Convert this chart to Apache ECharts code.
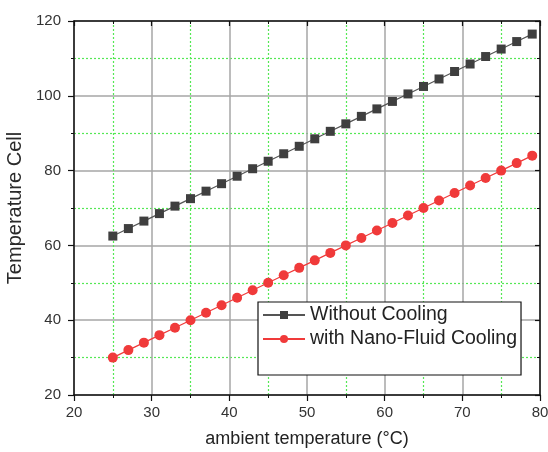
<!DOCTYPE html>
<html>
<head>
<meta charset="utf-8">
<script src="https://cdn.jsdelivr.net/npm/echarts@6/dist/echarts.min.js"></script>
<style>
  html, body { margin: 0; padding: 0; background: #fff; }
  #chart { width: 548px; height: 452px; }
</style>
</head>
<body>
<div id="chart"></div>
<script>
// x values (ambient temperature, °C)
var ambient = [25, 27, 29, 31, 33, 35, 37, 39, 41, 43, 45, 47, 49, 51,
  53, 55, 57, 59, 61, 63, 65, 67, 69, 71, 73, 75, 77, 79]
// cell temperature
var withoutCooling = [62.5, 64.5, 66.5, 68.5, 70.5, 72.5, 74.5, 76.5, 78.5, 80.5,
  82.5, 84.5, 86.5, 88.5, 90.5, 92.5, 94.5, 96.5, 98.5, 100.5,
  102.5, 104.5, 106.5, 108.5, 110.5, 112.5, 114.5, 116.5]
var nanoFluid = [30, 32, 34, 36, 38, 40, 42, 44, 46, 48,
  50, 52, 54, 56, 58, 60, 62, 64, 66, 68,
  70, 72, 74, 76, 78, 80, 82, 84]
var seriesNames = ['Without Cooling', 'with Nano-Fluid Cooling']

function pairs (ys) {
  return ambient.map(function (x, i) { return [x, ys[i]] })
}

var font = 'Liberation Sans, Arial, sans-serif'
var gridGrey = '#a6a6a6'
var minorGreen = '#55e855'

function mainAxis (extra) {
  var a = {
    type: 'value',
    axisLine: { show: true, onZero: false, lineStyle: { color: '#111', width: 1.5 } },
    axisTick: { show: true, length: 6, lineStyle: { color: '#111', width: 1.2 } },
    minorTick: { show: true, splitNumber: 2, length: 3, lineStyle: { color: '#111' } },
    splitLine: { show: true, lineStyle: { color: gridGrey, width: 1.5 } },
    minorSplitLine: { show: true, lineStyle: { color: minorGreen, width: 1.2, type: [2, 2] } }
  }
  return Object.assign(a, extra)
}

function mirrorAxis (extra) {
  var a = {
    type: 'value',
    axisLine: { show: true, onZero: false, lineStyle: { color: '#111', width: 1.5 } },
    axisTick: { show: true, inside: true, length: 5, lineStyle: { color: '#111', width: 1.2 } },
    minorTick: { show: true, splitNumber: 2, length: 3, lineStyle: { color: '#111' } },
    splitLine: { show: false },
    axisLabel: { show: false }
  }
  return Object.assign(a, extra)
}

var chart = echarts.init(document.getElementById('chart'))
chart.setOption({
  backgroundColor: '#fff',
  animation: false,
  grid: { left: 74, right: 8, top: 21, bottom: 57, containLabel: false, outerBoundsMode: 'none' },
  xAxis: [
    mainAxis({
      position: 'bottom', min: 20, max: 80, interval: 10,
      axisLabel: { fontSize: 15, color: '#333', fontFamily: font, margin: 10 },
      name: 'ambient temperature (°C)', nameLocation: 'middle', nameGap: 35,
      nameTextStyle: { fontSize: 18, color: '#222', fontFamily: font }
    }),
    mirrorAxis({ position: 'top', min: 20, max: 80, interval: 10 })
  ],
  yAxis: [
    mainAxis({
      position: 'left', min: 20, max: 120, interval: 20,
      axisLabel: { fontSize: 15, color: '#333', fontFamily: font, margin: 13 },
      name: 'Temperature Cell', nameLocation: 'middle', nameGap: 47,
      nameTextStyle: { fontSize: 20, color: '#2a2a2a', fontFamily: font }
    }),
    mirrorAxis({ position: 'right', min: 20, max: 120, interval: 20 })
  ],
  legend: {
    orient: 'vertical',
    left: 258,
    top: 302,
    data: seriesNames,
    backgroundColor: '#fff',
    borderColor: '#111',
    borderWidth: 1.2,
    borderRadius: 0,
    padding: [3, 4, 26, 4],
    itemGap: 4,
    itemWidth: 42,
    itemHeight: 10,
    textStyle: { fontSize: 19.5, color: '#222', fontFamily: font }
  },
  series: [
    {
      name: seriesNames[0],
      type: 'line',
      data: pairs(withoutCooling),
      symbol: 'rect',
      symbolSize: 9,
      itemStyle: { color: '#3f3f3f' },
      lineStyle: { color: '#555', width: 1.2 }
    },
    {
      name: seriesNames[1],
      type: 'line',
      data: pairs(nanoFluid),
      symbol: 'circle',
      symbolSize: 10,
      itemStyle: { color: '#f03a3a' },
      lineStyle: { color: '#f03a3a', width: 1.2 }
    }
  ]
})
</script>
</body>
</html>
